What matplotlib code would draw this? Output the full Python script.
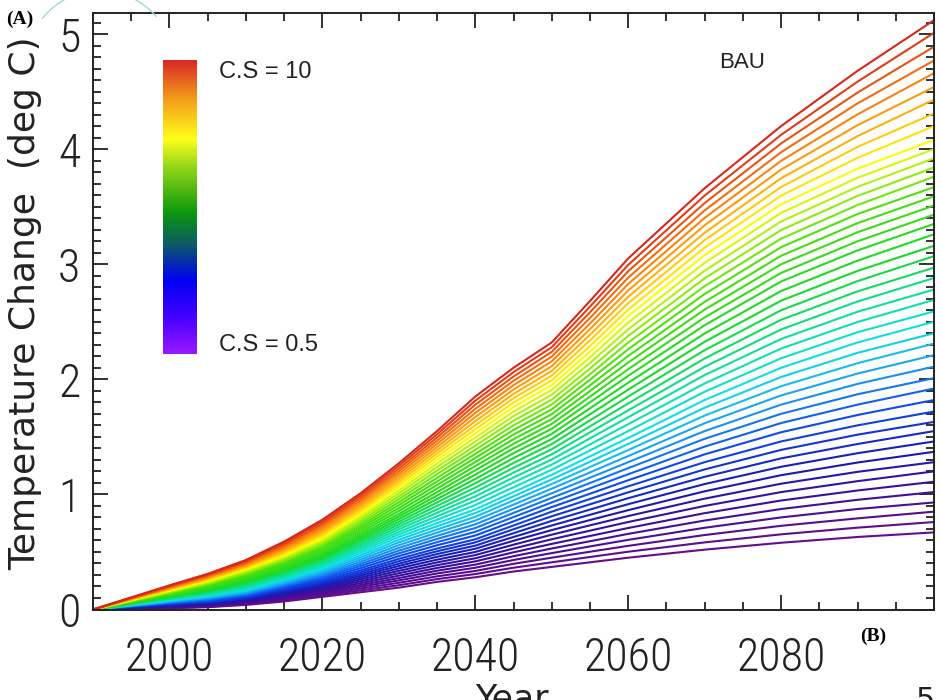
import numpy as np
import matplotlib
matplotlib.use("Agg")
import matplotlib.pyplot as plt
from matplotlib.colors import LinearSegmentedColormap
from matplotlib.ticker import MultipleLocator, FixedLocator
from matplotlib.patches import Arc
from matplotlib.transforms import IdentityTransform

# ---------------- data ----------------
years = [1990, 2000, 2005, 2010, 2015, 2020, 2025, 2030, 2035, 2040,
         2045, 2050, 2055, 2060, 2070, 2080, 2090, 2100]

# each list: temperature change of every curve (lowest C.S first) at that year
t1990 = [0.0] * 48
t2000 = [0.010, 0.013, 0.017, 0.020, 0.023, 0.027, 0.030, 0.033, 0.037, 0.040, 0.043, 0.047, 0.050,
         0.054, 0.058, 0.061, 0.065, 0.069, 0.073, 0.076, 0.080,
         0.084, 0.089, 0.093, 0.098, 0.102, 0.107, 0.111, 0.116, 0.120,
         0.125, 0.130, 0.135, 0.140, 0.145, 0.150, 0.155, 0.160, 0.165,
         0.170, 0.175, 0.180, 0.185, 0.190, 0.195, 0.200, 0.205, 0.210]
t2005 = [0.020, 0.024, 0.028, 0.033, 0.037, 0.041, 0.045, 0.049, 0.053, 0.058, 0.062, 0.066, 0.070,
         0.076, 0.083, 0.089, 0.095, 0.101, 0.108, 0.114, 0.120,
         0.127, 0.133, 0.140, 0.147, 0.153, 0.160, 0.167, 0.173, 0.180,
         0.188, 0.196, 0.203, 0.211, 0.219, 0.227, 0.234, 0.242, 0.250,
         0.257, 0.263, 0.270, 0.277, 0.283, 0.290, 0.297, 0.303, 0.310]
t2010 = [0.040, 0.046, 0.052, 0.058, 0.063, 0.069, 0.075, 0.081, 0.087, 0.093, 0.098, 0.104, 0.110,
         0.118, 0.125, 0.133, 0.140, 0.148, 0.155, 0.163, 0.170,
         0.180, 0.190, 0.200, 0.210, 0.220, 0.230, 0.240, 0.250, 0.260,
         0.270, 0.280, 0.290, 0.300, 0.310, 0.320, 0.330, 0.340, 0.350,
         0.359, 0.368, 0.377, 0.386, 0.394, 0.403, 0.412, 0.421, 0.430]
t2015 = [0.070, 0.079, 0.088, 0.098, 0.107, 0.116, 0.125, 0.134, 0.143, 0.153, 0.162, 0.171, 0.180,
         0.190, 0.200, 0.210, 0.220, 0.230, 0.240, 0.250, 0.260,
         0.271, 0.282, 0.293, 0.304, 0.316, 0.327, 0.338, 0.349, 0.360,
         0.372, 0.384, 0.397, 0.409, 0.421, 0.433, 0.446, 0.458, 0.470,
         0.483, 0.497, 0.510, 0.523, 0.537, 0.550, 0.563, 0.577, 0.590]
t2020 = [0.110, 0.122, 0.133, 0.145, 0.157, 0.168, 0.180, 0.192, 0.203, 0.215, 0.227, 0.238, 0.250,
         0.264, 0.278, 0.291, 0.305, 0.319, 0.333, 0.346, 0.360,
         0.373, 0.387, 0.400, 0.413, 0.427, 0.440, 0.453, 0.467, 0.480,
         0.496, 0.511, 0.527, 0.542, 0.558, 0.573, 0.589, 0.604, 0.620,
         0.638, 0.656, 0.673, 0.691, 0.709, 0.727, 0.744, 0.762, 0.780]
t2025 = [0.150, 0.166, 0.182, 0.198, 0.213, 0.229, 0.245, 0.261, 0.277, 0.293, 0.308, 0.324, 0.340,
         0.359, 0.378, 0.396, 0.415, 0.434, 0.453, 0.471, 0.490,
         0.508, 0.526, 0.543, 0.561, 0.579, 0.597, 0.614, 0.632, 0.650,
         0.670, 0.690, 0.710, 0.730, 0.750, 0.770, 0.790, 0.810, 0.830,
         0.850, 0.870, 0.890, 0.910, 0.930, 0.950, 0.970, 0.990, 1.010]
t2030 = [0.190, 0.211, 0.232, 0.253, 0.273, 0.294, 0.315, 0.336, 0.357, 0.378, 0.398, 0.419, 0.440,
         0.464, 0.488, 0.511, 0.535, 0.559, 0.583, 0.606, 0.630,
         0.652, 0.674, 0.697, 0.719, 0.741, 0.763, 0.786, 0.808, 0.830,
         0.856, 0.881, 0.907, 0.932, 0.958, 0.983, 1.009, 1.034, 1.060,
         1.083, 1.107, 1.130, 1.153, 1.177, 1.200, 1.223, 1.247, 1.270]
t2035 = [0.240, 0.264, 0.288, 0.313, 0.337, 0.361, 0.385, 0.409, 0.433, 0.458, 0.482, 0.506, 0.530,
         0.558, 0.585, 0.613, 0.640, 0.668, 0.695, 0.723, 0.750,
         0.780, 0.810, 0.840, 0.870, 0.900, 0.930, 0.960, 0.990, 1.020,
         1.051, 1.082, 1.113, 1.144, 1.176, 1.207, 1.238, 1.269, 1.300,
         1.328, 1.356, 1.383, 1.411, 1.439, 1.467, 1.494, 1.522, 1.550]
t2040 = [0.280, 0.308, 0.335, 0.363, 0.390, 0.418, 0.445, 0.473, 0.500, 0.528, 0.555, 0.583, 0.610,
         0.643, 0.675, 0.708, 0.740, 0.773, 0.805, 0.838, 0.870,
         0.908, 0.946, 0.983, 1.021, 1.059, 1.097, 1.134, 1.172, 1.210,
         1.246, 1.281, 1.317, 1.352, 1.388, 1.423, 1.459, 1.494, 1.530,
         1.566, 1.601, 1.637, 1.672, 1.708, 1.743, 1.779, 1.814, 1.850]
t2045 = [0.330, 0.363, 0.397, 0.430, 0.463, 0.497, 0.530, 0.563, 0.597, 0.630, 0.663, 0.697, 0.730,
         0.766, 0.803, 0.839, 0.875, 0.911, 0.948, 0.984, 1.020,
         1.062, 1.104, 1.147, 1.189, 1.231, 1.273, 1.316, 1.358, 1.400,
         1.440, 1.480, 1.520, 1.560, 1.600, 1.640, 1.680, 1.720, 1.760,
         1.798, 1.836, 1.873, 1.911, 1.949, 1.987, 2.024, 2.062, 2.100]
t2050 = [0.370, 0.410, 0.450, 0.490, 0.530, 0.570, 0.610, 0.650, 0.690, 0.730, 0.770, 0.810, 0.850,
         0.890, 0.930, 0.970, 1.010, 1.050, 1.090, 1.130, 1.170,
         1.214, 1.259, 1.303, 1.348, 1.392, 1.437, 1.481, 1.526, 1.570,
         1.612, 1.654, 1.697, 1.739, 1.781, 1.823, 1.866, 1.908, 1.950,
         1.991, 2.032, 2.073, 2.114, 2.156, 2.197, 2.238, 2.279, 2.320]
t2055 = [0.410, 0.456, 0.502, 0.548, 0.593, 0.639, 0.685, 0.731, 0.777, 0.823, 0.868, 0.914, 0.960,
         1.006, 1.053, 1.099, 1.145, 1.191, 1.238, 1.284, 1.330,
         1.382, 1.434, 1.487, 1.539, 1.591, 1.643, 1.696, 1.748, 1.800,
         1.849, 1.898, 1.947, 1.996, 2.044, 2.093, 2.142, 2.191, 2.240,
         2.289, 2.338, 2.387, 2.436, 2.484, 2.533, 2.582, 2.631, 2.680]
t2060 = [0.450, 0.502, 0.553, 0.605, 0.657, 0.708, 0.760, 0.812, 0.863, 0.915, 0.967, 1.018, 1.070,
         1.123, 1.175, 1.228, 1.280, 1.333, 1.385, 1.438, 1.490,
         1.550, 1.610, 1.670, 1.730, 1.790, 1.850, 1.910, 1.970, 2.030,
         2.088, 2.146, 2.203, 2.261, 2.319, 2.377, 2.434, 2.492, 2.550,
         2.606, 2.661, 2.717, 2.772, 2.828, 2.883, 2.939, 2.994, 3.050]
t2070 = [0.520, 0.583, 0.647, 0.710, 0.773, 0.837, 0.900, 0.963, 1.027, 1.090, 1.153, 1.217, 1.280,
         1.348, 1.415, 1.483, 1.550, 1.618, 1.685, 1.753, 1.820,
         1.892, 1.964, 2.037, 2.109, 2.181, 2.253, 2.326, 2.398, 2.470,
         2.538, 2.606, 2.673, 2.741, 2.809, 2.877, 2.944, 3.012, 3.080,
         3.144, 3.209, 3.273, 3.338, 3.402, 3.467, 3.531, 3.596, 3.660]
t2080 = [0.580, 0.653, 0.727, 0.800, 0.873, 0.947, 1.020, 1.093, 1.167, 1.240, 1.313, 1.387, 1.460,
         1.540, 1.620, 1.700, 1.780, 1.860, 1.940, 2.020, 2.100,
         2.183, 2.267, 2.350, 2.433, 2.517, 2.600, 2.683, 2.767, 2.850,
         2.924, 2.999, 3.073, 3.148, 3.222, 3.297, 3.371, 3.446, 3.520,
         3.596, 3.671, 3.747, 3.822, 3.898, 3.973, 4.049, 4.124, 4.200]
t2090 = [0.630, 0.711, 0.792, 0.873, 0.953, 1.034, 1.115, 1.196, 1.277, 1.358, 1.438, 1.519, 1.600,
         1.690, 1.780, 1.870, 1.960, 2.050, 2.140, 2.230, 2.320,
         2.409, 2.498, 2.587, 2.676, 2.764, 2.853, 2.942, 3.031, 3.120,
         3.199, 3.278, 3.357, 3.436, 3.514, 3.593, 3.672, 3.751, 3.830,
         3.924, 4.019, 4.113, 4.208, 4.302, 4.397, 4.491, 4.586, 4.680]
t2100 = [0.67, 0.76, 0.85, 0.93, 1.02, 1.11, 1.20, 1.28, 1.37, 1.46, 1.55, 1.63, 1.72,
         1.82, 1.92, 2.01, 2.11, 2.21, 2.31, 2.40, 2.50,
         2.59, 2.69, 2.78, 2.88, 2.97, 3.07, 3.16, 3.26, 3.35,
         3.43, 3.51, 3.59, 3.67, 3.76, 3.84, 3.92, 4.00, 4.08,
         4.20, 4.31, 4.43, 4.54, 4.66, 4.77, 4.89, 5.01, 5.12]

x_tick_values = [2000, 2020, 2040, 2060, 2080]
y_tick_values = [0, 1, 2, 3, 4, 5]
cs_low_label = "C.S = 0.5"
cs_high_label = "C.S = 10"
scenario_label = "BAU"
x_title = "Year"
y_title = "Temperature Change  (deg C)"

# ---------------- styling ----------------
line_stops = [
    (0.00, (0.40, 0.05, 0.55)),
    (0.10, (0.25, 0.05, 0.60)),
    (0.18, (0.10, 0.10, 0.70)),
    (0.28, (0.05, 0.30, 0.95)),
    (0.36, (0.10, 0.65, 0.95)),
    (0.42, (0.05, 0.88, 0.90)),
    (0.50, (0.05, 0.88, 0.55)),
    (0.58, (0.10, 0.85, 0.15)),
    (0.70, (0.30, 0.88, 0.05)),
    (0.77, (0.70, 0.95, 0.05)),
    (0.81, (1.00, 1.00, 0.00)),
    (0.86, (1.00, 0.75, 0.05)),
    (0.92, (0.98, 0.50, 0.05)),
    (1.00, (0.85, 0.15, 0.10)),
]
line_cmap = LinearSegmentedColormap.from_list("lines", line_stops)

bar_stops = [
    (0.00, (0.60, 0.10, 1.00)),
    (0.13, (0.25, 0.00, 1.00)),
    (0.25, (0.00, 0.00, 0.95)),
    (0.37, (0.05, 0.35, 0.40)),
    (0.48, (0.05, 0.60, 0.05)),
    (0.64, (0.60, 0.85, 0.10)),
    (0.73, (1.00, 1.00, 0.10)),
    (0.87, (0.95, 0.60, 0.10)),
    (1.00, (0.85, 0.15, 0.15)),
]
bar_cmap = LinearSegmentedColormap.from_list("bar", bar_stops)

tick_font = ["Roboto Condensed", "Liberation Sans Narrow", "DejaVu Sans Condensed", "Roboto"]

fig = plt.figure(figsize=(9.41, 7.0), dpi=100)
W, H = 941.0, 700.0

ax = fig.add_axes([93 / W, 1 - 609.5 / H, 841 / W, 596.2 / H])

data = np.array([t1990, t2000, t2005, t2010, t2015, t2020, t2025, t2030, t2035,
                 t2040, t2045, t2050, t2055, t2060, t2070, t2080, t2090, t2100]).T
n = data.shape[0]
for i, row in enumerate(data):
    ax.plot(years, row, color=line_cmap(i / (n - 1)), lw=1.5,
            solid_joinstyle="round", solid_capstyle="butt")

ax.set_xlim(1990, 2100)
ax.set_ylim(0, 5.18)
ax.xaxis.set_major_locator(FixedLocator(x_tick_values))
ax.xaxis.set_minor_locator(MultipleLocator(5))
ax.yaxis.set_major_locator(FixedLocator(y_tick_values))
ax.yaxis.set_minor_locator(MultipleLocator(0.1))
ax.tick_params(which="both", direction="in", top=True, right=True,
               width=1.3, color="#222222")
ax.tick_params(which="major", length=11)
ax.tick_params(which="minor", length=6)
ax.tick_params(axis="x", which="major", pad=19)
ax.tick_params(axis="y", which="major", pad=9)
for lab in ax.get_xticklabels() + ax.get_yticklabels():
    lab.set_family(tick_font)
    lab.set_fontsize(33)
    lab.set_fontweight("light")
    lab.set_color("#222222")
for s in ax.spines.values():
    s.set_linewidth(1.4)
    s.set_color("#222222")

# colour bar
cax = fig.add_axes([163 / W, 1 - 354 / H, 34 / W, 294 / H])
cax.imshow(np.linspace(0, 1, 256)[:, None], aspect="auto", cmap=bar_cmap,
           origin="lower")
cax.set_axis_off()

txt_font = ["Liberation Sans", "DejaVu Sans"]
fig.text(219 / W, 1 - 72 / H, cs_high_label, fontsize=17, family=txt_font,
         ha="left", va="center", color="#222222")
fig.text(219 / W, 1 - 345 / H, cs_low_label, fontsize=17, family=txt_font,
         ha="left", va="center", color="#222222")
fig.text(742 / W, 1 - 63 / H, scenario_label, fontsize=16, family=txt_font,
         ha="center", va="center", color="#222222")

# axis titles
fig.text(25 / W, 1 - 303 / H, y_title, rotation=90, fontsize=26,
         family="DejaVu Sans", ha="center", va="center", color="#222222")
fig.text(512 / W, 1 - 682 / H, x_title, fontsize=25, family="DejaVu Sans",
         ha="center", va="top", color="#222222")

# panel marks and page number
fig.text(20 / W, 1 - 19 / H, "(A)", fontsize=14, family="Liberation Serif",
         weight="bold", ha="center", va="center")
fig.text(873 / W, 1 - 636 / H, "(B)", fontsize=14, family="Liberation Serif",
         weight="bold", ha="center", va="center")
fig.text(925 / W, 1 - 686 / H, "5", fontsize=22, family="DejaVu Sans",
         ha="center", va="top", color="#222222")

# faint scanning arc at the top-left
arc = Arc((100, H - 64), 147, 147, theta1=40, theta2=142,
          transform=IdentityTransform(), color=(0.62, 0.86, 0.86), lw=1.0)
fig.add_artist(arc)

fig.savefig("out.png", dpi=100)
